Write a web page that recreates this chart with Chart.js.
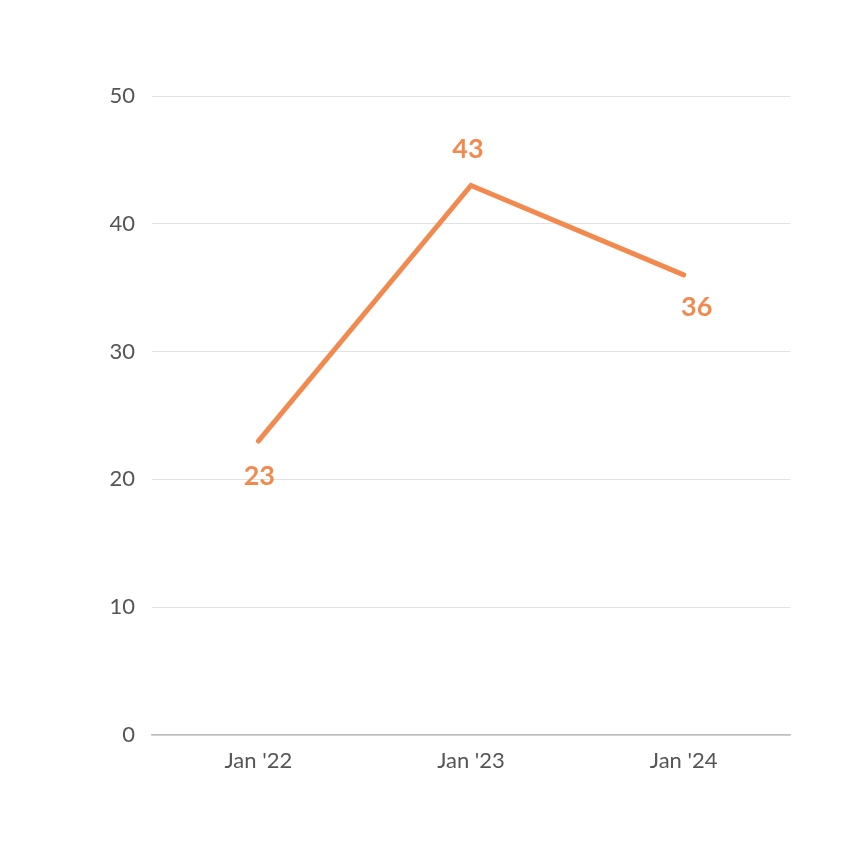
<!DOCTYPE html>
<html><head><meta charset="utf-8">
<script src="https://cdn.jsdelivr.net/npm/chart.js@4"></script>
<style>html,body{margin:0;padding:0;background:#fff;}canvas{display:block;}</style>
</head><body>
<canvas id="c" width="851" height="851"></canvas>
<script>
const categories = ["Jan '22", "Jan '23", "Jan '24"];
const values = [23, 43, 36];
const yTicks = [0, 10, 20, 30, 40, 50];

const ORANGE = '#F28A50';
const labelPlugin = {
  id: 'vals',
  afterDatasetsDraw(chart, args, opts) {
    const ctx = chart.ctx;
    const meta = chart.getDatasetMeta(0);
    ctx.save();
    ctx.font = 'bold 27px Lato';
    ctx.fillStyle = ORANGE;
    ctx.textAlign = 'center';
    ctx.textBaseline = 'middle';
    meta.data.forEach((pt, i) => {
      const o = opts.offsets[i];
      ctx.fillText(String(values[i]), pt.x + o[0], pt.y + o[1]);
    });
    ctx.restore();
  }
};

new Chart(document.getElementById('c'), {
  type: 'line',
  data: {
    labels: categories,
    datasets: [{
      data: values,
      borderColor: ORANGE,
      borderWidth: 5,
      borderCapStyle: 'round',
      borderJoinStyle: 'miter',
      pointRadius: 0,
      tension: 0,
      fill: false
    }]
  },
  options: {
    responsive: false,
    animation: false,
    devicePixelRatio: 1,
    layout: { padding: { left: 0, right: 61, top: 96, bottom: 0 } },
    plugins: {
      legend: { display: false }, tooltip: { enabled: false },
      vals: { offsets: [[1, 35], [-3, -36], [13, 32]] }
    },
    scales: {
      x: {
        offset: true,
        grid: { display: false, drawTicks: false },
        border: { display: true, color: '#BDBDBD', width: 1.5 },
        ticks: { color: '#555', font: { family: 'Lato', size: 22 }, padding: 13 },
        afterFit(s) { s.height = 116; }
      },
      y: {
        min: 0, max: 50,
        afterBuildTicks(s) { s.ticks = yTicks.map(v => ({ value: v })); },
        grid: { color: '#E2E2E2', lineWidth: 1, drawTicks: false },
        border: { display: false },
        ticks: { color: '#555', font: { family: 'Lato', size: 22 }, padding: 17 },
        afterFit(s) { s.width = 152; }
      }
    }
  },
  plugins: [labelPlugin]
});
</script>
</body></html>
